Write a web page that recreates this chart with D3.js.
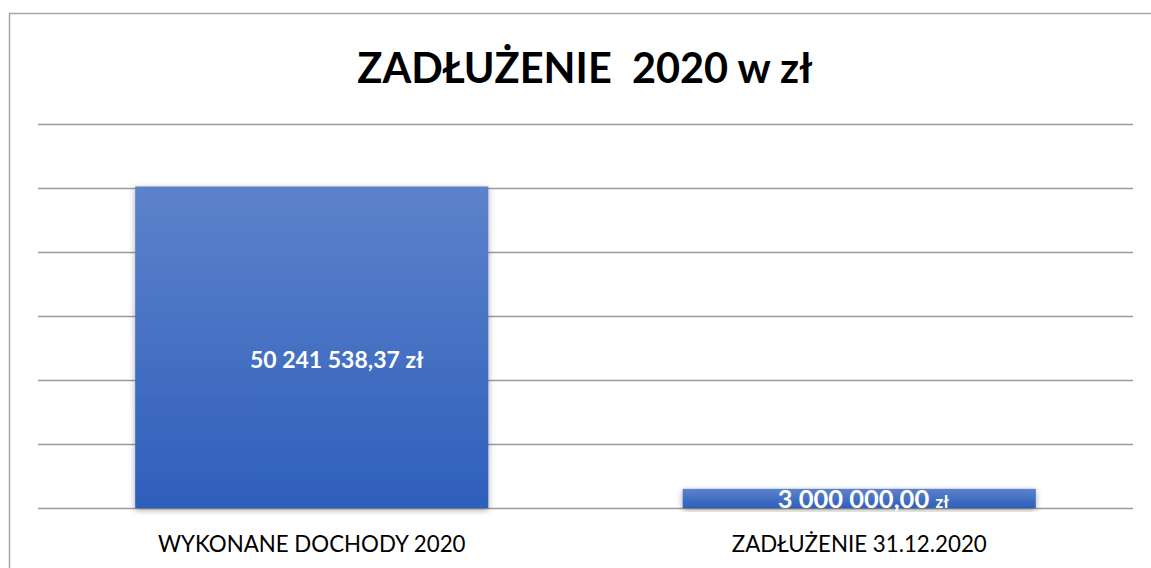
<!DOCTYPE html>
<html>
<head>
<meta charset="utf-8">
<script src="https://cdn.jsdelivr.net/npm/d3@7"></script>
<style>
  body { margin: 0; background: #fff; }
  text { font-family: Lato, "Open Sans", sans-serif; }
</style>
</head>
<body>
<script>
var categories = ["WYKONANE DOCHODY 2020", "ZADŁUŻENIE 31.12.2020"];
var values = [50241538.37, 3000000.00];
var labels = ["50 241 538,37", "3 000 000,00"];
var tickValues = [0, 10e6, 20e6, 30e6, 40e6, 50e6, 60e6];

var W = 1151, H = 568;
var svg = d3.select("body").append("svg")
    .attr("width", W)
    .attr("height", H);

var defs = svg.append("defs");
var grad = defs.append("linearGradient")
    .attr("id", "barGrad")
    .attr("x1", 0).attr("y1", 0).attr("x2", 0).attr("y2", 1);
grad.append("stop").attr("offset", "0%").attr("stop-color", "#5d82cb");
grad.append("stop").attr("offset", "100%").attr("stop-color", "#2e5fbb");

var shadow = defs.append("filter")
    .attr("id", "shadow")
    .attr("x", "-10%").attr("y", "-10%")
    .attr("width", "120%").attr("height", "130%");
shadow.append("feDropShadow")
    .attr("dx", 0).attr("dy", 2)
    .attr("stdDeviation", 3)
    .attr("flood-color", "#000")
    .attr("flood-opacity", 0.35);

// chart border (goes off right and bottom edges)
svg.append("rect")
    .attr("x", 9.5).attr("y", 13.5)
    .attr("width", 1160).attr("height", 600)
    .attr("fill", "#fff")
    .attr("stroke", "#a6a6a6")
    .attr("stroke-width", 1.5);

var plot = {left: 38, right: 1133, top: 124, bottom: 508};

var x = d3.scaleBand()
    .domain(categories)
    .range([plot.left, plot.right])
    .paddingInner(0.355)
    .paddingOuter(0.1775);

var y = d3.scaleLinear()
    .domain([0, 60e6])
    .range([plot.bottom, plot.top]);

// gridlines
svg.append("g")
    .selectAll("line")
    .data(tickValues)
    .enter().append("line")
    .attr("x1", plot.left)
    .attr("x2", plot.right)
    .attr("y1", function(d){ return Math.round(y(d)) + 0.5; })
    .attr("y2", function(d){ return Math.round(y(d)) + 0.5; })
    .attr("stroke", "#9c9c9c")
    .attr("stroke-width", 1.5);

// bars
svg.append("g")
    .selectAll("rect")
    .data(values)
    .enter().append("rect")
    .attr("x", function(d, i){ return x(categories[i]); })
    .attr("y", function(d){ return y(d); })
    .attr("width", x.bandwidth())
    .attr("height", function(d){ return y(0) - y(d); })
    .attr("fill", "url(#barGrad)")
    .attr("filter", "url(#shadow)");

// value labels (Excel placed the first one a bit right of centre)
svg.append("text")
    .attr("x", x(categories[0]) + x.bandwidth() / 2 + 25)
    .attr("y", 368)
    .attr("text-anchor", "middle")
    .attr("fill", "#fff")
    .attr("font-weight", "bold")
    .attr("font-size", 23)
    .text(labels[0] + " zł");

var small = svg.append("text")
    .attr("x", x(categories[1]) + x.bandwidth() / 2 + 4)
    .attr("y", y(0))
    .attr("text-anchor", "middle")
    .attr("fill", "#fff")
    .attr("font-weight", "bold")
    .attr("font-size", 25.5);
small.append("tspan").text(labels[1] + " ");
small.append("tspan").attr("font-size", 17).text("zł");

// category labels
svg.append("g")
    .selectAll("text")
    .data(categories)
    .enter().append("text")
    .attr("x", function(d){ return x(d) + x.bandwidth() / 2; })
    .attr("y", 552)
    .attr("text-anchor", "middle")
    .attr("fill", "#000")
    .attr("font-size", 22.3)
    .text(function(d){ return d; });

// title
svg.append("text")
    .attr("x", 585)
    .attr("y", 83)
    .attr("text-anchor", "middle")
    .attr("font-weight", "bold")
    .attr("font-size", 41.5)
    .attr("fill", "#000")
    .style("white-space", "pre")
    .text("ZADŁUŻENIE  2020 w zł");
</script>
</body>
</html>
